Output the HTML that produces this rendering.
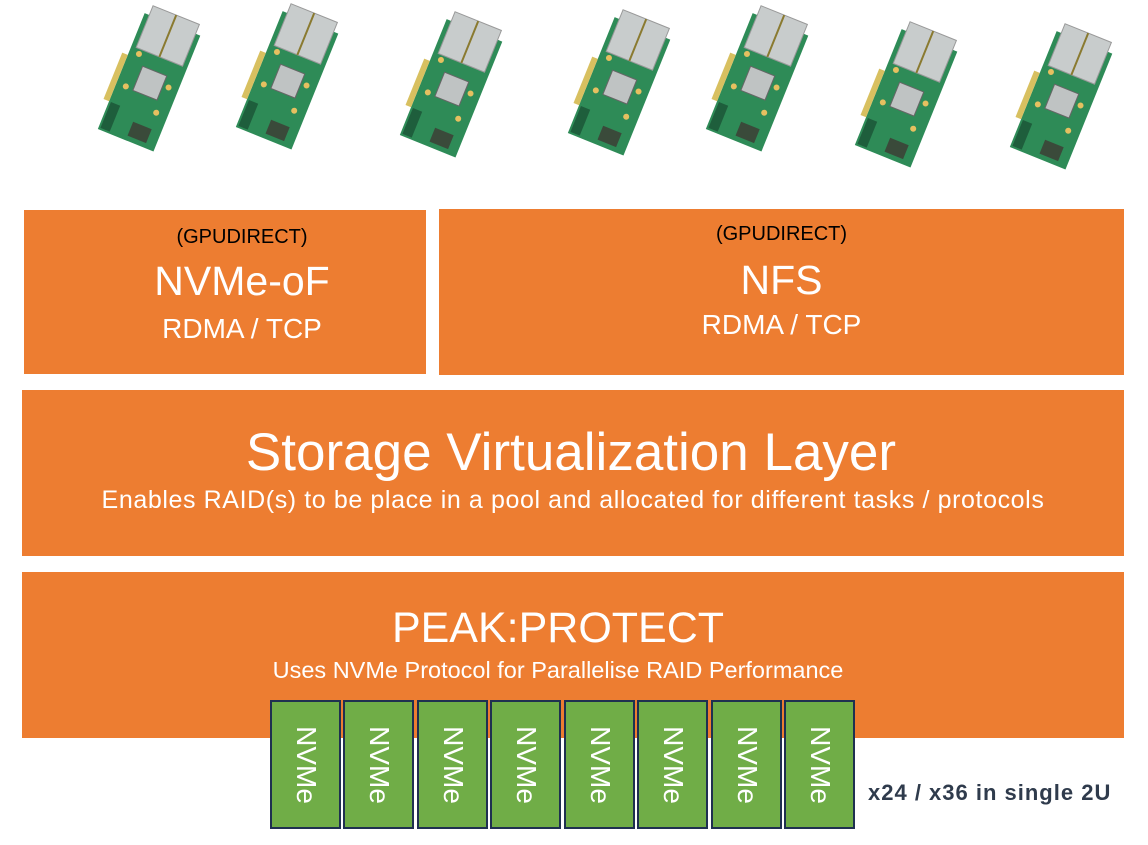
<!DOCTYPE html>
<html><head><meta charset="utf-8"><style>
body{margin:0;width:1148px;height:845px;background:#fff;position:relative;overflow:hidden;font-family:"Liberation Sans",sans-serif}
.o{position:absolute;background:#ED7D31;color:#fff;text-align:center}
.n{position:absolute;top:700px;width:67px;height:125px;background:#70AD47;border:2px solid #1F3050}
.n span{position:absolute;left:50%;top:50%;transform:translate(-50%,-50%) rotate(90deg);color:#fff;font-size:28px;white-space:nowrap}
.t{position:absolute;left:0;right:0;white-space:nowrap}
</style></head><body>
<svg width="1148" height="200" style="position:absolute;left:0;top:0">
<defs>
<g id="c">
<g transform="rotate(22)">
<rect x="-30" y="-60" width="60" height="125" fill="#2E8B57"/>
<rect x="-36" y="-15" width="6" height="50" fill="#D8C060"/>
<rect x="-25" y="-70" width="50" height="45" fill="#C8CCCC" stroke="#999" stroke-width="1"/>
<line x1="0" y1="-70" x2="0" y2="-25" stroke="#8a7a30" stroke-width="2"/>
<rect x="-12" y="-10" width="26" height="26" fill="#BFC3C3" stroke="#666"/>
<rect x="-28" y="35" width="10" height="28" fill="#1e5e3c"/>
<rect x="0" y="45" width="20" height="15" fill="#3a4a3a"/>
<circle cx="-20" cy="-20" r="3" fill="#E6C060"/><circle cx="20" cy="0" r="3" fill="#E6C060"/><circle cx="-20" cy="15" r="3" fill="#E6C060"/><circle cx="18" cy="28" r="3" fill="#E6C060"/>
</g></g></defs>
<use href="#c" x="150" y="80"/>
<use href="#c" x="288" y="78"/>
<use href="#c" x="452" y="86"/>
<use href="#c" x="620" y="84"/>
<use href="#c" x="758" y="80"/>
<use href="#c" x="907" y="96"/>
<use href="#c" x="1062" y="98"/>
</svg>
<div class="o" style="left:24px;top:210px;width:402px;height:164px">
<div class="t" style="left:34px;top:16px;color:#000;font-size:20px">(GPUDIRECT)</div>
<div class="t" style="left:34px;top:48px;font-size:41px">NVMe-oF</div>
<div class="t" style="left:34px;top:103px;font-size:28px">RDMA / TCP</div></div>
<div class="o" style="left:439px;top:209px;width:685px;height:166px">
<div class="t" style="top:14px;color:#000;font-size:20px">(GPUDIRECT)</div>
<div class="t" style="top:48px;font-size:41px">NFS</div>
<div class="t" style="top:100px;font-size:28px">RDMA / TCP</div></div>
<div class="o" style="left:22px;top:390px;width:1102px;height:166px">
<div class="t" style="top:32px;font-size:53px;left:-4px">Storage Virtualization Layer</div>
<div class="t" style="top:96px;font-size:25px;letter-spacing:0.6px">Enables RAID(s) to be place in a pool and allocated for different tasks / protocols</div></div>
<div class="o" style="left:22px;top:572px;width:1102px;height:166px">
<div class="t" style="top:32px;font-size:43px;left:-30px">PEAK:PROTECT</div>
<div class="t" style="top:85px;font-size:23.5px;left:-30px">Uses NVMe Protocol for Parallelise RAID Performance</div></div>
<div class="n" style="left:270px"><span>NVMe</span></div>
<div class="n" style="left:343px"><span>NVMe</span></div>
<div class="n" style="left:417px"><span>NVMe</span></div>
<div class="n" style="left:490px"><span>NVMe</span></div>
<div class="n" style="left:564px"><span>NVMe</span></div>
<div class="n" style="left:637px"><span>NVMe</span></div>
<div class="n" style="left:711px"><span>NVMe</span></div>
<div class="n" style="left:784px"><span>NVMe</span></div>
<div style="position:absolute;left:868px;top:780px;font-size:22px;letter-spacing:1px;font-weight:bold;color:#2F3B4C">x24 / x36 in single 2U</div>
</body></html>
